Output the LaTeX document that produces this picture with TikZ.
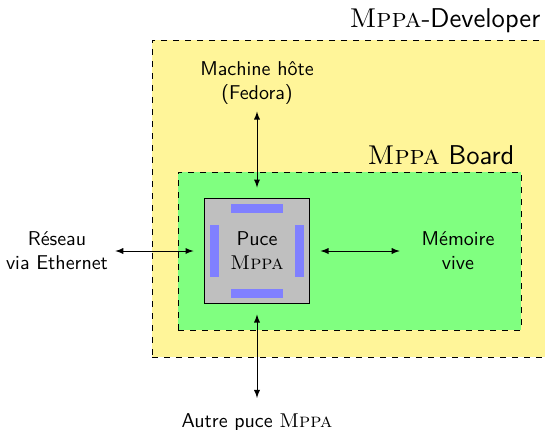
\documentclass[tikz,border=0pt]{standalone}
\usepackage{tikz}
\usetikzlibrary{positioning,arrows,calc}
\newcommand{\mppa}{\textrm{\textsc{Mppa}}}
\definecolor{devyellow}{RGB}{255,245,153}
\tikzset{
    on grid,
    node distance=3.5cm,
    auto,
    zone/.style = {
        draw,
        dashed,
        shape=rectangle,
        inner sep=0pt
    },
    puce/.style = {
        draw,
        shape=rectangle,
        fill=gray!50,
        minimum size=52.5pt,
        outer sep=5.5pt,
        font=\sffamily,
        align=center
    },
    bus/.style = {
        shape=rectangle,
        fill=blue!50,
        inner sep=0pt
    },
    ext/.style = {
        font=\sffamily,
        align=center
    },
    titre/.style = {
        font=\sffamily\fontsize{13.6pt}{16pt}\selectfont,
        anchor=south east
    },
    >=latex,
}

\begin{document}
\begin{tikzpicture}
    \useasboundingbox (-128.5pt,-89pt) rectangle (144pt,125.5pt);

    % zones
    \node[zone, fill=devyellow, minimum width=197.5pt, minimum height=158.5pt] (dev) at (46.25pt,26.25pt) {};
    \node[titre] (devtitre) at (dev.north east) {\mppa-Developer};
    \node[zone, fill=green!50, minimum width=171.5pt, minimum height=79pt] (board) at (46.25pt,0pt) {};
    \node[titre] (boardtitre) at (board.north east) {\mppa{} Board};

    % puce
    \node[puce] (puce) at (0,0) {Puce\\\mppa};
    \node[bus, minimum width=26pt, minimum height=4.5pt] (busn) at ($(puce.center)+(0,21.25pt)$) {};
    \node[bus, minimum width=26pt, minimum height=4.5pt] (buss) at ($(puce.center)+(0,-21.25pt)$) {};
    \node[bus, minimum width=4.5pt, minimum height=26pt] (buso) at ($(puce.center)+(-21.25pt,0)$) {};
    \node[bus, minimum width=4.5pt, minimum height=26pt] (buse) at ($(puce.center)+(21.25pt,0)$) {};

    % exterieur
    \node[ext, above of=puce, node distance=84pt] (hote) {Machine hôte\\(Fedora)};
    \node[ext, below of=puce, node distance=85.75pt, outer sep=4.5pt] (autre) {Autre puce \mppa};
    \node[ext, left of=puce, node distance=100pt, text width=1.8cm] (reseau) {Réseau\\via Ethernet};
    \node[ext, right of=puce, node distance=100.5pt, text width=1.8cm] (memoire) {Mémoire\\vive};

    %connect
    \draw[<->] (puce) -- (hote);
    \draw[<->] (puce) -- (autre);
    \draw[<->] (puce) -- (reseau);
    \draw[<->] (puce) -- (memoire);

\end{tikzpicture}
\end{document}
